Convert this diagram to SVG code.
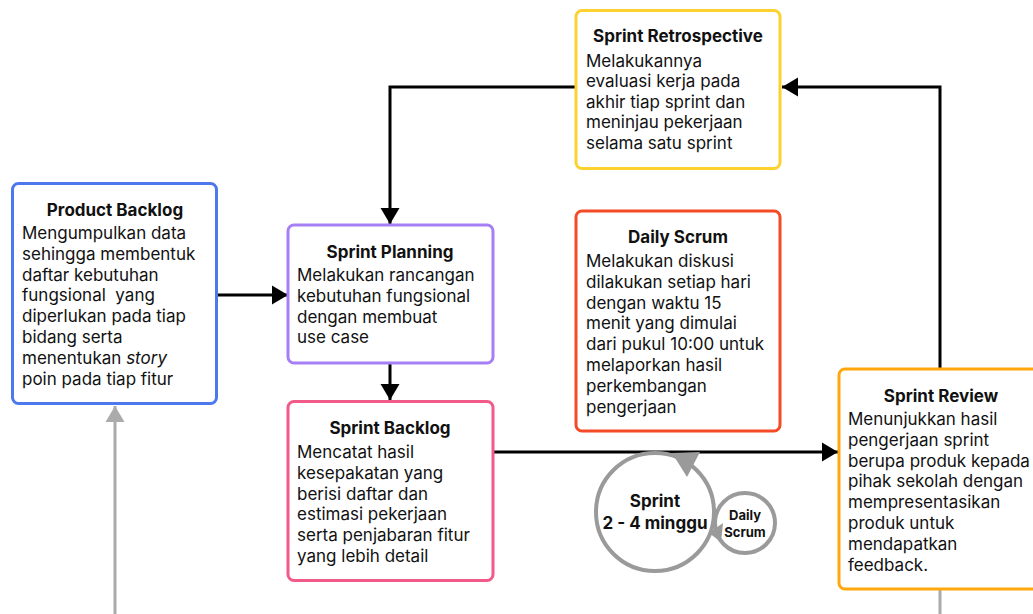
<svg xmlns="http://www.w3.org/2000/svg" width="1033" height="614" viewBox="0 0 1033 614">
  <style>
    .box { fill: #ffffff; stroke-width: 3; }
    .title { font-family: Inter, "Liberation Sans", sans-serif; font-size: 17px; font-weight: 700; fill: #111111; text-anchor: middle; }
    .body { font-family: Inter, "Liberation Sans", sans-serif; font-size: 17px; font-weight: 400; fill: #111111; }
    .flow { fill: none; stroke: #000000; stroke-width: 3; }
    .back { fill: none; stroke: #ababab; stroke-width: 3; }
    .ring { fill: #ffffff; stroke: #9a9a9a; stroke-width: 4; }
    .ring-label { font-family: Inter, "Liberation Sans", sans-serif; font-weight: 700; fill: #111111; text-anchor: middle; }
  </style>
  <defs>
    <marker id="arrow-black" markerUnits="userSpaceOnUse" markerWidth="20" markerHeight="20" viewBox="0 0 16 20" refX="16" refY="10" orient="auto">
      <path d="M0,0.5 L16,10 L0,19.5 Z" fill="#000000"/>
    </marker>
    <marker id="arrow-gray" markerUnits="userSpaceOnUse" markerWidth="20" markerHeight="20" viewBox="0 0 16 20" refX="16" refY="10" orient="auto">
      <path d="M0,0.5 L16,10 L0,19.5 Z" fill="#ababab"/>
    </marker>
  </defs>

  <rect width="1033" height="614" fill="#ffffff"/>

  <!-- connectors -->
  <g id="connectors">
    <path class="flow" d="M217,295 H288" marker-end="url(#arrow-black)"/>
    <path class="flow" d="M575,87 H390 V224" marker-end="url(#arrow-black)"/>
    <path class="flow" d="M390,363 V400" marker-end="url(#arrow-black)"/>
    <path class="flow" d="M493,452 H838" marker-end="url(#arrow-black)"/>
    <path class="flow" d="M940,368 V87 H782" marker-end="url(#arrow-black)"/>
    <path class="back" d="M115,614 V406" marker-end="url(#arrow-gray)"/>
    <path class="back" d="M940,590 V614"/>
  </g>

  <!-- sprint cycle -->
  <g id="sprint-cycle">
    <circle class="ring" cx="655" cy="512" r="59"/>
    <path d="M672,453 L700,452 L687,477 Z" fill="#9a9a9a"/>
    <circle class="ring" cx="745" cy="523" r="30" stroke-width="3"/>
    <path d="M709,533 L723,523 L721,542 Z" fill="#9a9a9a"/>
    <text class="ring-label" font-size="17" x="655" y="507">Sprint</text>
    <text class="ring-label" font-size="17" x="655" y="529">2 - 4 minggu</text>
    <text class="ring-label" font-size="13" x="745" y="520">Daily</text>
    <text class="ring-label" font-size="13" x="745" y="537">Scrum</text>
  </g>

  <g id="product-backlog">
    <rect class="box" x="12.5" y="183.5" width="204" height="220" rx="6" stroke="#4d78ee"/>
    <text class="title" x="115" y="216">Product Backlog</text>
    <text class="body" x="22" y="239" xml:space="preserve"><tspan x="22" dy="0">Mengumpulkan data</tspan><tspan x="22" dy="20.8">sehingga membentuk</tspan><tspan x="22" dy="20.8">daftar kebutuhan</tspan><tspan x="22" dy="20.8">fungsional  yang</tspan><tspan x="22" dy="20.8">diperlukan pada tiap</tspan><tspan x="22" dy="20.8">bidang serta</tspan><tspan x="22" dy="20.8">menentukan <tspan font-style="italic">story</tspan></tspan><tspan x="22" dy="20.8">poin pada tiap fitur</tspan></text>
  </g>

  <g id="sprint-planning">
    <rect class="box" x="288" y="225" width="205" height="138" rx="6" stroke="#a57ff3"/>
    <text class="title" x="390" y="258">Sprint Planning</text>
    <text class="body" x="297" y="281">
      <tspan x="297" dy="0">Melakukan rancangan</tspan>
      <tspan x="297" dy="20.8">kebutuhan fungsional</tspan>
      <tspan x="297" dy="20.8">dengan membuat</tspan>
      <tspan x="297" dy="20.8">use case</tspan>
    </text>
  </g>

  <g id="sprint-backlog">
    <rect class="box" x="288" y="401.5" width="205" height="179" rx="6" stroke="#f25a8a"/>
    <text class="title" x="390" y="434">Sprint Backlog</text>
    <text class="body" x="297" y="458">
      <tspan x="297" dy="0">Mencatat hasil</tspan>
      <tspan x="297" dy="20.8">kesepakatan yang</tspan>
      <tspan x="297" dy="20.8">berisi daftar dan</tspan>
      <tspan x="297" dy="20.8">estimasi pekerjaan</tspan>
      <tspan x="297" dy="20.8">serta penjabaran fitur</tspan>
      <tspan x="297" dy="20.8">yang lebih detail</tspan>
    </text>
  </g>

  <g id="sprint-retrospective">
    <rect class="box" x="576" y="10.5" width="204" height="158" rx="6" stroke="#fdd12e"/>
    <text class="title" x="678" y="42">Sprint Retrospective</text>
    <text class="body" x="586" y="66.5">
      <tspan x="586" dy="0">Melakukannya</tspan>
      <tspan x="586" dy="20.5">evaluasi kerja pada</tspan>
      <tspan x="586" dy="20.5">akhir tiap sprint dan</tspan>
      <tspan x="586" dy="20.5">meninjau pekerjaan</tspan>
      <tspan x="586" dy="20.5">selama satu sprint</tspan>
    </text>
  </g>

  <g id="daily-scrum">
    <rect class="box" x="576" y="211" width="204" height="220" rx="6" stroke="#f44a25"/>
    <text class="title" x="678" y="243">Daily Scrum</text>
    <text class="body" x="586" y="267">
      <tspan x="586" dy="0">Melakukan diskusi</tspan>
      <tspan x="586" dy="20.8">dilakukan setiap hari</tspan>
      <tspan x="586" dy="20.8">dengan waktu 15</tspan>
      <tspan x="586" dy="20.8">menit yang dimulai</tspan>
      <tspan x="586" dy="20.8">dari pukul 10:00 untuk</tspan>
      <tspan x="586" dy="20.8">melaporkan hasil</tspan>
      <tspan x="586" dy="20.8">perkembangan</tspan>
      <tspan x="586" dy="20.8">pengerjaan</tspan>
    </text>
  </g>

  <g id="sprint-review">
    <rect class="box" x="839" y="369" width="210" height="220" rx="6" stroke="#ffa70c"/>
    <text class="title" x="941" y="402">Sprint Review</text>
    <text class="body" x="848" y="425">
      <tspan x="848" dy="0">Menunjukkan hasil</tspan>
      <tspan x="848" dy="20.8">pengerjaan sprint</tspan>
      <tspan x="848" dy="20.8">berupa produk kepada</tspan>
      <tspan x="848" dy="20.8">pihak sekolah dengan</tspan>
      <tspan x="848" dy="20.8">mempresentasikan</tspan>
      <tspan x="848" dy="20.8">produk untuk</tspan>
      <tspan x="848" dy="20.8">mendapatkan</tspan>
      <tspan x="848" dy="20.8">feedback.</tspan>
    </text>
  </g>
</svg>
